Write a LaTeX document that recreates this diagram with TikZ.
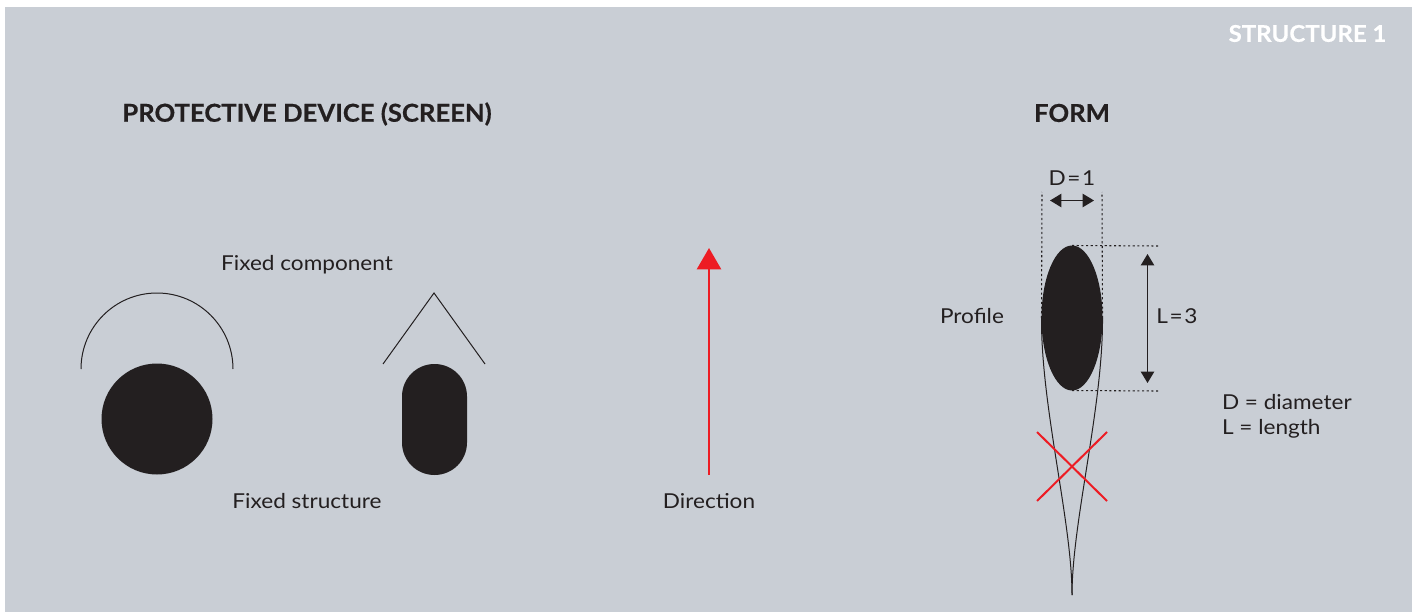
\documentclass[tikz,border=0pt]{standalone}
\usepackage{fontspec}
\setmainfont[FakeStretch=1.1]{Lato}
\newfontfamily\headfont[FakeStretch=1.04,BoldFeatures={FakeBold=0.5}]{Lato}
\usetikzlibrary{arrows.meta, shapes.geometric}
\definecolor{mpanel}{RGB}{201,206,213}
\definecolor{mink}{RGB}{35,31,32}
\definecolor{mred}{RGB}{237,28,36}

\begin{document}
\begin{tikzpicture}[
  x=0.75pt, y=0.75pt,
  every node/.style={inner sep=0pt, outer sep=0pt, text=mink},
  caption/.style={font=\fontsize{15.4}{19}\selectfont},
  formula/.style={caption, execute at begin node={\spaceskip=0.08em}},
  heading/.style={font=\fontsize{18.5}{22}\selectfont\headfont\bfseries},
  outline/.style={draw=mink, line width=0.75pt},
  guide/.style={draw=mink, line width=0.8pt, dash pattern=on 1.6pt off 1.9pt},
  blackfill/.style={fill=mink, draw=none},
  measure/.style={draw=mink, line width=0.9pt, {Triangle[length=8.5pt,width=10pt]}-{Triangle[length=8.5pt,width=10pt]}},
  cross/.style={draw=mred, line width=1.5pt},
]
\useasboundingbox (0,0) rectangle (1417,612);
\fill[mpanel] (5,0) rectangle (1412,605);

\node[heading, text=white, font=\fontsize{17.3}{22}\selectfont\headfont\bfseries] (tag) at (1307.5,578.5) {STRUCTURE 1};
\node[heading] (screen) at (307,498) {PROTECTIVE DEVICE (SCREEN)};
\node[heading] (form) at (1072,499) {FORM};

\node[caption] (component) at (307,347) {Fixed component};
\node[caption] (structure) at (307,110.5) {Fixed structure};
\node[caption] (direction) at (709,110.5) {Direction};

\node[blackfill, circle, minimum size=83.25pt] (round) at (157,193) {};
\draw[outline] (81,243) arc[start angle=180, end angle=0, radius=76];
\node[blackfill, rectangle, rounded corners=24.3pt, minimum width=48.75pt, minimum height=83.25pt] (capsule) at (434.5,192.5) {};
\draw[outline] (383,248) -- (434,319) -- (485,248);

\coordinate (start) at (709,137);
\coordinate (end) at (709,364);
\draw[draw=mred, line width=1.9pt, -{Triangle[length=16pt,width=18pt]}] (start) -- (end);

\node[blackfill, ellipse, minimum width=45.75pt, minimum height=108.75pt] (profile) at (1072,294) {};
\node[caption] (profiletext) at (972,295.5) {Profile};
\coordinate (tail) at (1072,17);
\draw[outline] (profile.west) .. controls (1041,205) and (1072,90) .. (tail);
\draw[outline] (profile.east) .. controls (1103,205) and (1072,90) .. (tail);

\coordinate (dleft) at (1042,420);
\coordinate (dright) at (1102,420);
\coordinate (ltop) at (1158,366);
\coordinate (lbottom) at (1158,221);
\draw[guide] (profile.west) -- (dleft);
\draw[guide] (profile.east) -- (dright);
\draw[guide] (profile.north) -- (ltop);
\draw[guide] (profile.south) -- (lbottom);

\coordinate (da) at (1050,411.5);
\coordinate (db) at (1094,411.5);
\draw[measure] (da) -- (db);
\node[formula] (dtext) at (1072,433.5) {D = 1};
\coordinate (la) at (1147.5,358);
\coordinate (lb) at (1147.5,229);
\draw[measure] (la) -- (lb);
\node[formula] (ltext) at (1177,295.5) {L = 3};

\node[caption, align=left, anchor=west] (legend) at (1222,196) {D = diameter\\L = length};

\coordinate (xa) at (1037,180);
\coordinate (xb) at (1107,111);
\coordinate (xc) at (1107,180);
\coordinate (xd) at (1037,111);
\draw[cross] (xa) -- (xb);
\draw[cross] (xc) -- (xd);
\end{tikzpicture}
\end{document}
